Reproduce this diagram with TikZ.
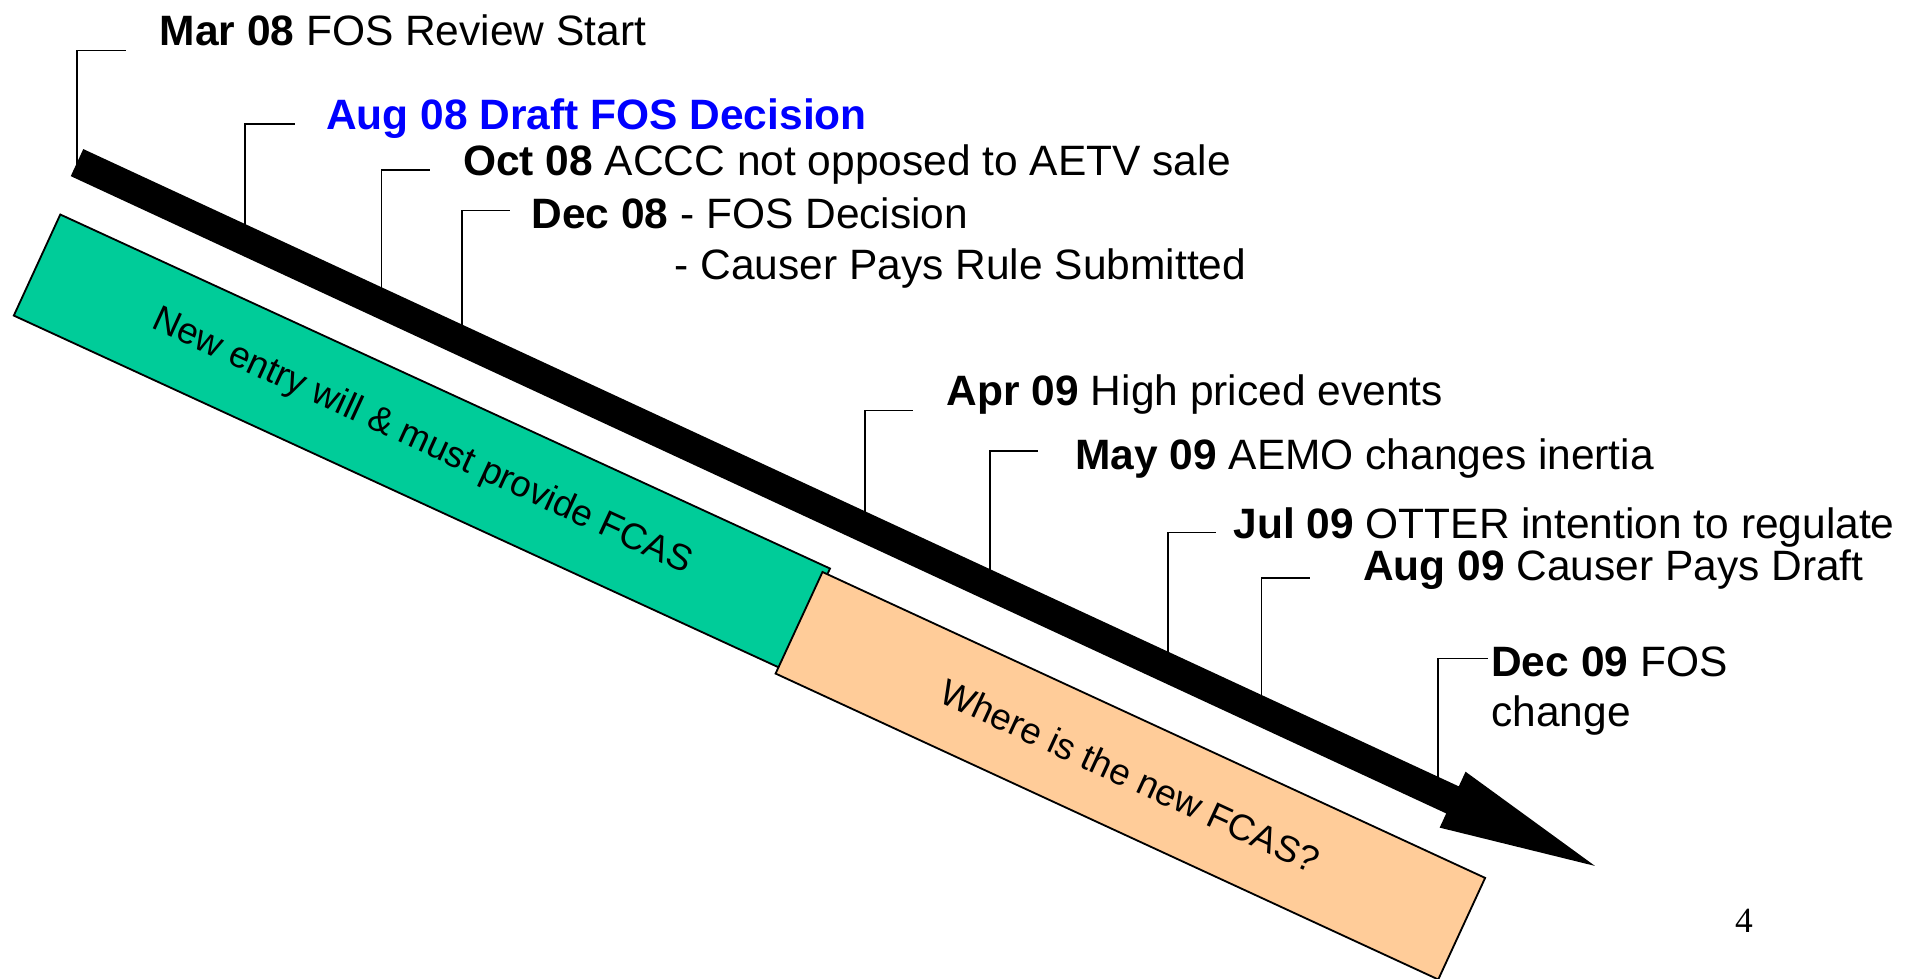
\documentclass[tikz,border=0pt]{standalone}
\usepackage{fontspec}
\setmainfont{Liberation Sans}
\newfontfamily\pagenumfont{Liberation Serif}
\definecolor{fcasgreen}{HTML}{00CC99}
\definecolor{fcasorange}{HTML}{FFCC99}
\definecolor{evblue}{HTML}{0000FF}
\begin{document}
\begin{tikzpicture}[x=1pt,y=-1pt,
  lbl/.style={anchor=base west, inner sep=0pt, font=\fontsize{34.75}{40}\selectfont},
  callout/.style={draw=black, line width=1.3pt},
  band/.style={draw=black, line width=1.5pt, inner sep=0pt, anchor=south west,
    font=\fontsize{30}{36}\selectfont, minimum height=91pt}]
\useasboundingbox (0,0) rectangle (1568,800);

% bands
\node[band, fill=fcasgreen, rotate=-24.7, minimum width=693pt] (green) at (10.3,258.5)
  {New entry will \& must provide FCAS};
\node[band, fill=fcasorange, rotate=-24.78, minimum width=597pt, minimum height=91.5pt] (orange) at (633.4,551.3)
  {Where is the new FCAS?};

% callout anchor points on the arrow and elbow ends
\coordinate (a1) at (63.2,136);   \coordinate (e1) at (103.3,41.4);
\coordinate (a2) at (200.4,196.6);\coordinate (e2) at (241,101.4);
\coordinate (a3) at (312.2,248.3);\coordinate (e3) at (351.7,139);
\coordinate (a4) at (378,278.7);  \coordinate (e4) at (417.3,172.3);
\coordinate (a5) at (707.5,431.1);\coordinate (e5) at (747,335.9);
\coordinate (a6) at (809.7,478.4);\coordinate (e6) at (849.3,368.8);
\coordinate (a7) at (955.4,545.8);\coordinate (e7) at (994.6,435.4);
\coordinate (a8) at (1031.8,581.2);\coordinate (e8) at (1071.9,473);
\coordinate (a9) at (1176,647.9); \coordinate (e9) at (1216.8,538.5);
\foreach \i in {1,...,9} { \draw[callout] (a\i) |- (e\i); }

% timeline arrow
\begin{scope}[shift={(63,133)}, rotate=-24.86]
  \fill[black] (0,-12.2) -- (1240,-12.2) -- (1240,-25.4) -- (1368.4,0)
     -- (1240,25) -- (1240,12.2) -- (0,12.2) -- cycle;
\end{scope}

% labels
\node[lbl] (mar08) at (130.5,37) {\textbf{Mar 08} FOS Review Start};
\node[lbl, text=evblue] (aug08) at (266.6,106) {\textbf{Aug 08 Draft FOS Decision}};
\node[lbl] (oct08) at (378.7,143.5) {\textbf{Oct 08} ACCC not opposed to AETV sale};
\node[lbl] (dec08) at (434.5,187) {\textbf{Dec 08} - FOS Decision};
\node[lbl] (dec08b) at (551.7,229) {- Causer Pays Rule Submitted};
\node[lbl] (apr09) at (774.3,332) {\textbf{Apr 09} High priced events};
\node[lbl] (may09) at (879.3,384.4) {\textbf{May 09} AEMO changes inertia};
\node[lbl] (jul09) at (1008.7,440.3) {\textbf{Jul 09} OTTER intention to regulate};
\node[lbl] (aug09) at (1114.7,474.9) {\textbf{Aug 09} Causer Pays Draft};
\node[lbl] (dec09) at (1219.6,553.5) {\textbf{Dec 09} FOS};
\node[lbl] (dec09b) at (1219.6,594.4) {change};

\node[anchor=base west, inner sep=0pt, font=\pagenumfont\fontsize{29}{34}\selectfont] (pagenum) at (1419,763) {4};
\end{tikzpicture}
\end{document}
